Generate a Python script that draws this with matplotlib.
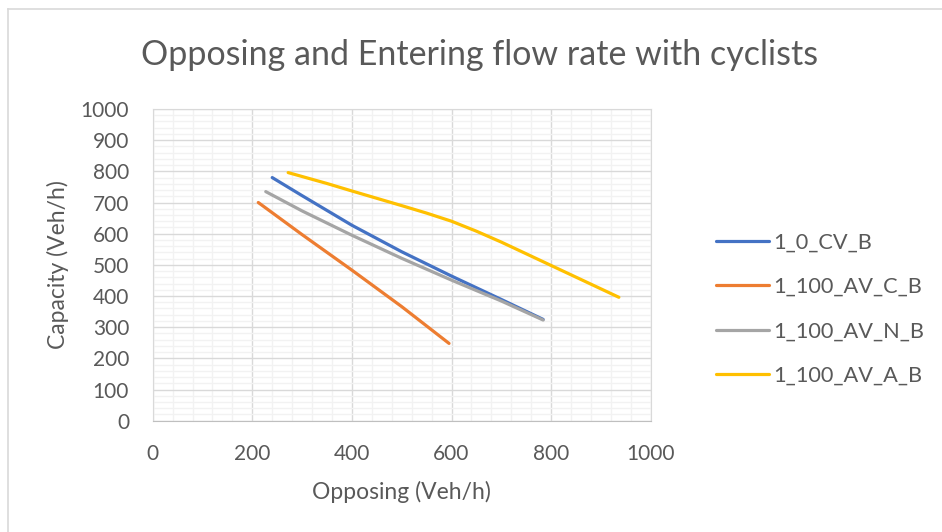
import numpy as np
import matplotlib.pyplot as plt
from matplotlib.lines import Line2D

# series
cv_x = [240, 300, 400, 500, 600, 700, 784]
cv_y = [780, 722, 627, 542, 464, 389, 325]
avc_x = [212, 300, 400, 500, 595]
avc_y = [700, 597, 483, 366, 248]
avn_x = [227, 300, 400, 500, 600, 700, 784]
avn_y = [735, 673, 595, 521, 451, 384, 323]
ava_x = [272, 350, 400, 500, 550, 600, 650, 700, 800, 936]
ava_y = [796, 761, 737, 690, 666, 640, 608, 573, 498, 396]

names = ["1_0_CV_B", "1_100_AV_C_B", "1_100_AV_N_B", "1_100_AV_A_B"]
colors = ["#4472C4", "#ED7D31", "#A5A5A5", "#FFC000"]

plt.rcParams['font.family'] = ['Lato', 'DejaVu Sans']
txt = '#595959'

fig = plt.figure(figsize=(9.42, 5.32), dpi=100)
# outer chart border (only top/left visible in the crop)
fig.add_artist(Line2D([8/942, 8/942], [0, 1 - 9/532], color='#d9d9d9', lw=1.2))
fig.add_artist(Line2D([8/942, 1], [1 - 9/532, 1 - 9/532], color='#d9d9d9', lw=1.2))

ax = fig.add_axes([0.1621, 0.2092, 0.5287, 0.5859])

series = [(cv_x, cv_y), (avc_x, avc_y), (avn_x, avn_y), (ava_x, ava_y)]
for (xs, ys), c, n in zip(series, colors, names):
    ax.plot(xs, ys, color=c, lw=2.3, label=n, solid_capstyle='round',
            solid_joinstyle='round')

ax.set_xlim(0, 1000)
ax.set_ylim(0, 1000)
ax.set_xticks(np.arange(0, 1001, 200))
ax.set_yticks(np.arange(0, 1001, 100))
ax.set_xticks(np.arange(0, 1001, 40), minor=True)
ax.set_yticks(np.arange(0, 1001, 20), minor=True)
ax.grid(which='major', color='#d9d9d9', lw=1.0)
ax.grid(which='minor', color='#f2f2f2', lw=1.0)
ax.set_axisbelow(True)
ax.tick_params(which='both', length=0, labelsize=15, colors=txt)
ax.tick_params(axis='x', pad=17)
ax.tick_params(axis='y', pad=17)
for s in ax.spines.values():
    s.set_color('#d9d9d9')
ax.spines['bottom'].set_color('#bfbfbf')

ax.set_xlabel("Opposing (Veh/h)", fontsize=16.5, color=txt, labelpad=12)
ax.set_ylabel("Capacity (Veh/h)", fontsize=16.5, color=txt, labelpad=8)
fig.text(0.5096, 0.897, "Opposing and Entering flow rate with cyclists",
         ha='center', va='center', fontsize=24.5, color=txt)

ax.legend(loc='center left', bbox_to_anchor=(1.092, 0.358), frameon=False,
          fontsize=15.7, labelcolor=txt, handlelength=2.4, handletextpad=0.23,
          labelspacing=1.11)

fig.savefig("out.png", dpi=100)
